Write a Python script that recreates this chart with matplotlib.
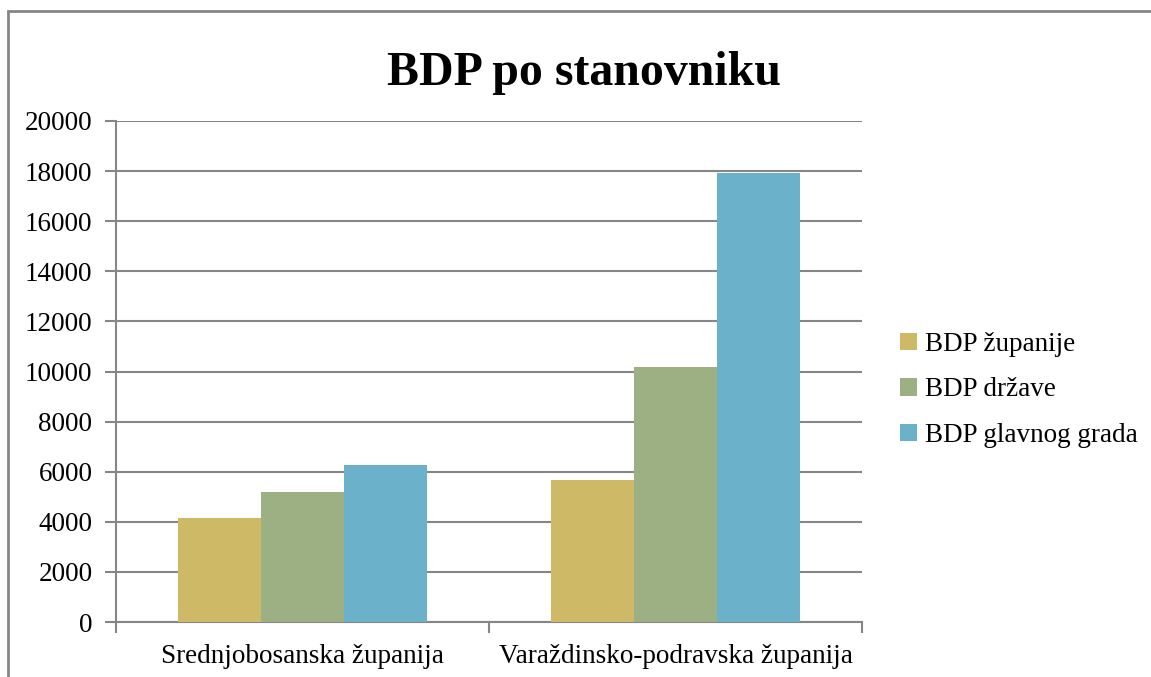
import numpy as np
import matplotlib.pyplot as plt
from matplotlib.patches import Rectangle

# podaci
zupanije = ["Srednjobosanska županija", "Varaždinsko-podravska županija"]
serije = ["BDP županije", "BDP države", "BDP glavnog grada"]
bdp_zupanije = [4150, 5670]
bdp_drzave = [5180, 10170]
bdp_grada = [6280, 17920]
boje = ["#CEB966", "#9CB084", "#6BB1C9"]

plt.rcParams['font.family'] = ['Liberation Serif', 'DejaVu Serif']

fig = plt.figure(figsize=(11.51, 6.77), dpi=100)
W, H = 1151, 677
ax = fig.add_axes([116 / W, 1 - 622 / H, (862 - 116) / W, (622 - 121) / H])

# okvir grafikona
fig.patches.append(Rectangle((8 / W, -0.1), 1.2, 1 - 11 / H + 0.1, transform=fig.transFigure,
                             fill=False, edgecolor="#868686", linewidth=2))

x = np.arange(len(zupanije))
w = 0.2225
for i, (vals, lab) in enumerate(zip([bdp_zupanije, bdp_drzave, bdp_grada], serije)):
    ax.bar(x + (i - 1) * w, vals, w, color=boje[i], label=lab, zorder=3)

ax.set_xlim(-0.5, 1.5)
ax.set_ylim(0, 20000)
ax.set_yticks(np.arange(0, 20001, 2000))
ax.tick_params(axis='y', labelsize=19.5, length=8, width=1.5, color="#868686", pad=9)
ax.set_xticks([-0.5, 0.5, 1.5])
ax.set_xticklabels([])
ax.set_xticks(x, minor=True)
ax.set_xticklabels(zupanije, minor=True)
ax.tick_params(axis='x', which='major', length=8, width=1.5, color="#868686")
ax.tick_params(axis='x', which='minor', length=0, labelsize=19.5, pad=16)
ax.grid(axis='y', color="#868686", linewidth=1.5, zorder=0)
for s in ['top', 'right']:
    ax.spines[s].set_visible(False)
for s in ['left', 'bottom']:
    ax.spines[s].set_color("#868686")
    ax.spines[s].set_linewidth(1.5)

fig.text(584 / W, 1 - 85 / H, "BDP po stanovniku", ha='center', va='baseline',
         fontsize=34.5, fontweight='bold')

ax.legend(loc='center left', bbox_to_anchor=(876 / W, 1 - 390 / H), bbox_transform=fig.transFigure,
          frameon=False, fontsize=19.5, handlelength=0.6, handleheight=0.6,
          handletextpad=0.3, labelspacing=0.75)

fig.savefig("out.png", dpi=100)
